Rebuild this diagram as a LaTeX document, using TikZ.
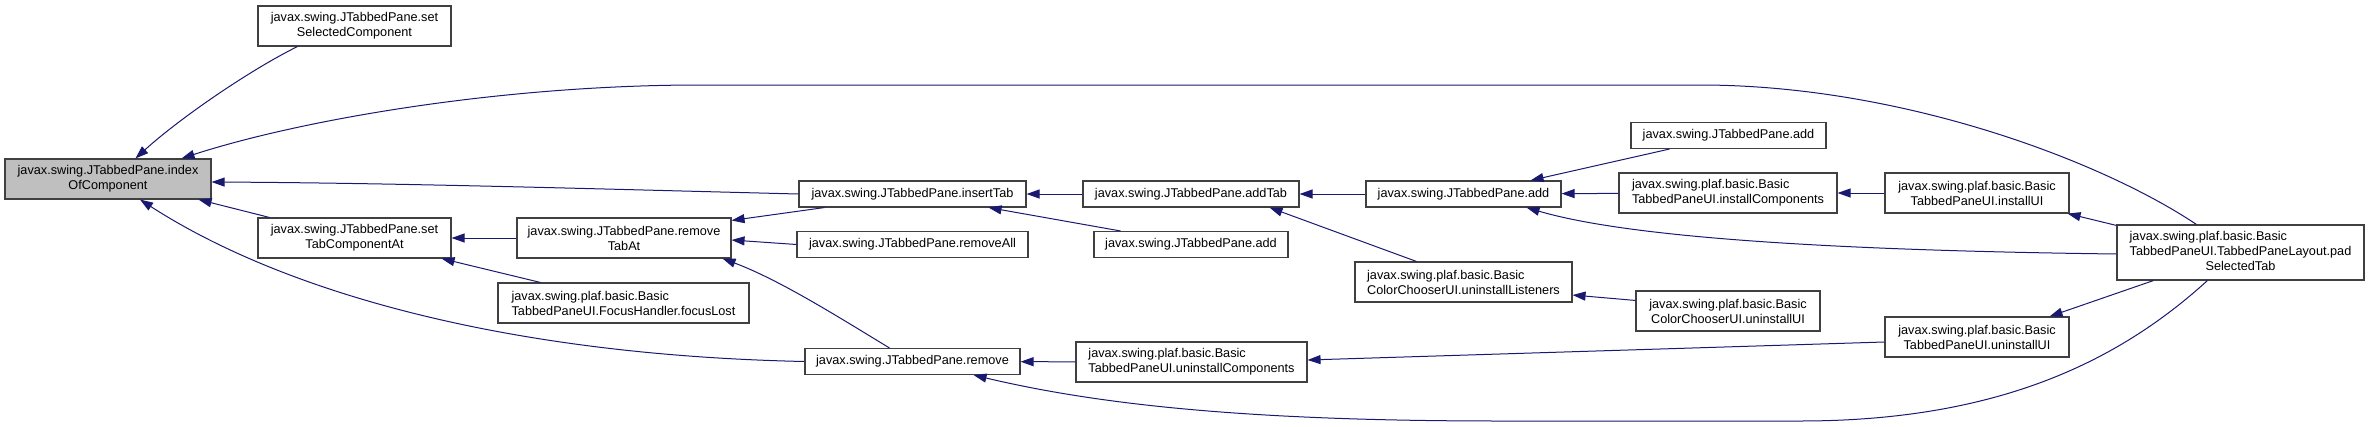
\documentclass[tikz,border=0pt]{standalone}
\usepackage{fontspec}
\setmainfont{Liberation Sans}
\usetikzlibrary{arrows.meta, calc}

\definecolor{edgeblue}{HTML}{191970}
\definecolor{nodegray}{HTML}{BFBFBF}
\definecolor{rimgray}{HTML}{404040}

\begin{document}
\begin{tikzpicture}[
    x=1pt, y=-1pt, % one unit = one pixel, y grows downwards
    >={Triangle[length=13pt, width=9pt]}, % Set default arrow tip style
    fn/.style={draw=rimgray, line width=1.1pt, fill=white, inner sep=0pt, minimum height=26pt,
        font=\fontsize{12.7}{15}\selectfont, align=center}, % Style for a function box
    twoline/.style={minimum height=40pt}, % Box with two lines of text
    current/.style={fill=nodegray}, % The function the graph is about
    call/.style={->, edgeblue, line width=1pt} % Style for a call edge
]
    \useasboundingbox (0,0) rectangle (2369,426);

    % Function boxes
    \node[fn, current, twoline, minimum width=206] (idx) at (108,179) {javax.swing.JTabbedPane.index\\OfComponent};
    \node[fn, twoline, minimum width=193] (setSel) at (354.5,26) {javax.swing.JTabbedPane.set\\SelectedComponent};
    \node[fn, twoline, minimum width=193] (setTabComp) at (354.5,238) {javax.swing.JTabbedPane.set\\TabComponentAt};
    \node[fn, twoline, minimum width=214] (removeTabAt) at (624,238) {javax.swing.JTabbedPane.remove\\TabAt};
    \node[fn, twoline, minimum width=251, align=left] (focusLost) at (623.5,303) {javax.swing.plaf.basic.Basic\\TabbedPaneUI.FocusHandler.focusLost};
    \node[fn, minimum width=227] (insertTab) at (912.5,194) {javax.swing.JTabbedPane.insertTab};
    \node[fn, minimum width=231] (removeAll) at (912.5,244.5) {javax.swing.JTabbedPane.removeAll};
    \node[fn, minimum width=215] (remove) at (912.5,361.5) {javax.swing.JTabbedPane.remove};
    \node[fn, minimum width=216] (addTab) at (1191,194) {javax.swing.JTabbedPane.addTab};
    \node[fn, minimum width=194] (addMid) at (1191,244.5) {javax.swing.JTabbedPane.add};
    \node[fn, twoline, minimum width=231, align=left] (uninstComp) at (1191.5,362) {javax.swing.plaf.basic.Basic\\TabbedPaneUI.uninstallComponents};
    \node[fn, minimum width=195] (addMain) at (1463.5,194) {javax.swing.JTabbedPane.add};
    \node[fn, twoline, minimum width=217, align=left] (uninstListen) at (1463.5,282) {javax.swing.plaf.basic.Basic\\ColorChooserUI.uninstallListeners};
    \node[fn, minimum width=195] (addTop) at (1728.5,135.5) {javax.swing.JTabbedPane.add};
    \node[fn, twoline, minimum width=218, align=left] (instComp) at (1728,193) {javax.swing.plaf.basic.Basic\\TabbedPaneUI.installComponents};
    \node[fn, twoline, minimum width=184] (ccUninstUI) at (1728,311) {javax.swing.plaf.basic.Basic\\ColorChooserUI.uninstallUI};
    \node[fn, twoline, minimum width=184] (instUI) at (1977,193) {javax.swing.plaf.basic.Basic\\TabbedPaneUI.installUI};
    \node[fn, twoline, minimum width=184] (tpUninstUI) at (1977,337) {javax.swing.plaf.basic.Basic\\TabbedPaneUI.uninstallUI};
    \node[fn, minimum width=247, minimum height=55] (pad) at (2240.5,252.5)
        {\begin{tabular}{@{}l@{}}javax.swing.plaf.basic.Basic\\TabbedPaneUI.TabbedPaneLayout.pad\\\multicolumn{1}{@{}c@{}}{SelectedTab}\end{tabular}};

    % Calls into indexOfComponent
    \draw[call] ($(setSel.south west)+(40,0)$) .. controls (250,70) and (180,118) .. ($(idx.north west)+(131,0)$);
    \draw[call] ($(pad.north west)+(80,0)$) .. controls (2100,160) and (1900,85) .. (1700,85) -- (700,85)
        .. controls (500,85) and (300,120) .. ($(idx.north east)+(-30,0)$);
    \draw[call] (insertTab.west) .. controls (600,189) and (400,183) .. ($(idx.east)+(0,3)$);
    \draw[call] ($(setTabComp.north west)+(12,0)$) -- ($(idx.south east)+(-13,0)$);
    \draw[call] (remove.west) .. controls (500,355) and (280,290) .. ($(idx.south)+(32,0)$);

    % Second column
    \draw[call] (removeTabAt) -- (setTabComp);
    \draw[call] ($(focusLost.north west)+(43,0)$) -- ($(setTabComp.south east)+(-10,0)$);
    \draw[call] ($(insertTab.south west)+(26,0)$) -- ($(removeTabAt.north east)+(0,3)$);
    \draw[call] (removeAll.west) -- ($(removeTabAt.east)+(0,2)$);
    \draw[call] ($(remove.north west)+(85,0)$) .. controls (840,318) and (780,280) .. ($(removeTabAt.south east)+(-9,0)$);

    % insertTab and remove
    \draw[call] (addTab) -- (insertTab);
    \draw[call] ($(addMid.north west)+(27,0)$) -- ($(insertTab.south east)+(-38,0)$);
    \draw[call] (uninstComp) -- (remove);
    \draw[call] ($(pad.south west)+(91,0)$) .. controls (2120,360) and (2000,421) .. (1800,421) -- (1500,421)
        .. controls (1250,421) and (1100,405) .. ($(remove.south east)+(-47,0)$);

    % addTab and add
    \draw[call] (addMain) -- (addTab);
    \draw[call] ($(uninstListen.north west)+(62,0)$) -- ($(addTab.south east)+(-30,0)$);
    \draw[call] ($(addTop.south west)+(39,0)$) -- ($(addMain.north east)+(-31,0)$);
    \draw[call] (instComp) -- (addMain);
    \draw[call] ($(pad.west)+(0,1.5)$) .. controls (1800,250) and (1620,235) .. ($(addMain.south east)+(-35,0)$);

    % Right-hand callers
    \draw[call] ($(ccUninstUI.north west)+(0,10)$) -- ($(uninstListen.east)+(0,13)$);
    \draw[call] ($(tpUninstUI.west)+(0,5)$) -- ($(uninstComp.east)+(0,-2)$);
    \draw[call] (instUI) -- (instComp);
    \draw[call] ($(pad.north west)+(0,1)$) -- ($(instUI.south east)+(-2,0)$);
    \draw[call] ($(pad.south west)+(37,0)$) -- ($(tpUninstUI.north east)+(-20,0)$);

\end{tikzpicture}
\end{document}
